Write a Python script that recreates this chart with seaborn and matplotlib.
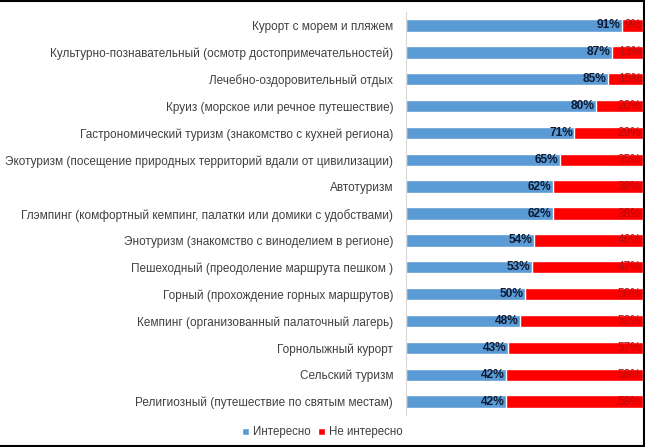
import matplotlib
matplotlib.use('Agg')
import matplotlib.pyplot as plt
import pandas as pd
import seaborn as sns
from matplotlib.patches import Patch
from matplotlib.lines import Line2D

# ── Data ───────────────────────────────────────────────────────────────────────
categories = [
    'Курорт с морем и пляжем',
    'Культурно-познавательный (осмотр достопримечательностей)',
    'Лечебно-оздоровительный отдых',
    'Круиз (морское или речное путешествие)',
    'Гастрономический туризм (знакомство с кухней региона)',
    'Экотуризм (посещение природных территорий вдали от цивилизации)',
    'Автотуризм',
    'Глэмпинг (комфортный кемпинг, палатки или домики с удобствами)',
    'Энотуризм (знакомство с виноделием в регионе)',
    'Пешеходный (преодоление маршрута пешком )',
    'Горный (прохождение горных маршрутов)',
    'Кемпинг (организованный палаточный лагерь)',
    'Горнолыжный курорт',
    'Сельский туризм',
    'Религиозный (путешествие по святым местам)',
]
interested = [91, 87, 85, 80, 71, 65, 62, 62, 54, 53, 50, 48, 43, 42, 42]
not_interested = [9, 13, 15, 20, 29, 35, 38, 38, 46, 47, 50, 52, 57, 58, 58]

BLUE = '#5b9bd5'
RED = '#ff0000'

df = pd.DataFrame({'cat': categories, 'yes': interested, 'no': not_interested})
df['total'] = df['yes'] + df['no']

sns.set_style('white')
plt.rcParams['font.family'] = ['Liberation Sans', 'DejaVu Sans']

fig = plt.figure(figsize=(6.45, 4.47), dpi=100)
ax = fig.add_axes([0.630, 0.0716, 0.367, 0.9014])

# stacked: full bar in red, blue part drawn on top
sns.barplot(data=df, y='cat', x='total', color=RED, width=0.46,
            saturation=1, orient='h', ax=ax)
sns.barplot(data=df, y='cat', x='yes', color=BLUE, width=0.46,
            saturation=1, orient='h', ax=ax)

for i, (y, n) in enumerate(zip(interested, not_interested)):
    ax.text(y - 0.6, i, f'{y}%', ha='right', va='center', fontsize=8.6,
            fontweight='bold', color='#0d1a33')
    ax.text(y + n - 0.6, i, f'{n}%', ha='right', va='center', fontsize=8.6,
            color='#b01010')

ax.set_xlim(0, 100)
ax.set_ylim(14.5, -0.5)
ax.set_xlabel('')
ax.set_ylabel('')
ax.set_xticks([])
ax.tick_params(axis='y', length=0, pad=9.5, labelsize=8.5, labelcolor='#404040')
for s in ['top', 'right', 'bottom']:
    ax.spines[s].set_visible(False)
ax.spines['left'].set_color('#d9d9d9')
ax.spines['left'].set_linewidth(0.8)

handles = [Patch(facecolor=BLUE, label='Интересно'),
           Patch(facecolor=RED, label='Не интересно')]
fig.legend(handles=handles, loc='center', bbox_to_anchor=(0.5, 0.033), ncol=2,
           frameon=False, fontsize=8.3, handlelength=0.6, handleheight=0.6,
           handletextpad=0.4, columnspacing=0.6, labelcolor='#404040')

# chart border (top, right, bottom)
for xs, ys in [([0, 1], [0.998, 0.998]), ([0.998, 0.998], [0, 1]), ([0, 1], [0.002, 0.002])]:
    fig.add_artist(Line2D(xs, ys, color='black', linewidth=1.5, transform=fig.transFigure))

fig.savefig('out.png', dpi=100)
